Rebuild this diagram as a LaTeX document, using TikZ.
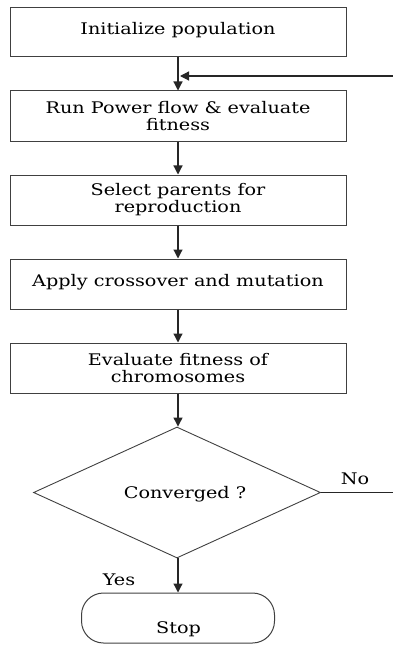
\documentclass[tikz,border=0pt]{standalone}
\usepackage{fontspec}
\setmainfont[FakeStretch=1.2]{DejaVu Serif}
\usetikzlibrary{arrows.meta,shapes.geometric}
\begin{document}
\begin{tikzpicture}[x=1pt,y=1pt,
  line/.style={draw=black!85, line width=1.2pt},
  arr/.style={line, -{Triangle[length=9pt,width=9pt]}},
  stepbox/.style={draw=black!75, line width=1pt, minimum width=336pt, inner sep=0pt, align=center, font=\fontsize{16}{17}\selectfont},
  decision/.style={diamond, draw=black!75, line width=0.9pt, minimum width=287pt, minimum height=131pt, inner sep=0pt, aspect=2.19},
  lbl/.style={inner sep=0pt, font=\fontsize{16}{17}\selectfont}]
\useasboundingbox (0,0) rectangle (393,-647);
\node[stepbox, minimum height=49pt] (b1) at (178,-32.5) {\raisebox{8pt}{Initialize population}};
\node[stepbox, minimum height=51pt] (b2) at (178,-116.5) {Run Power flow \& evaluate\\fitness};
\node[stepbox, minimum height=50pt] (b3) at (178,-200) {Select parents for\\reproduction};
\node[stepbox, minimum height=50pt] (b4) at (178,-284) {\raisebox{8pt}{Apply crossover and mutation}};
\node[stepbox, minimum height=50pt] (b5) at (178,-368) {Evaluate fitness of\\chromosomes};
\node[decision] (d) at (177,-492.5) {};
\node[lbl] (dt) at (185,-494) {Converged ?};
\node[draw=black!75, line width=1pt, minimum width=193pt, minimum height=50pt, rounded corners=22pt] (stop) at (178,-618) {};
\node[lbl] (st) at (178.5,-629) {Stop};
\node[lbl] (no) at (355,-479) {No};
\node[lbl] (yes) at (119,-580) {Yes};
\coordinate (fbin) at (393,-76);
\coordinate (fbax) at (180,-76);
\coordinate (noout) at (393,-492.5);
\draw[arr] (b1) -- (b2);
\draw[arr] (b2) -- (b3);
\draw[arr] (b3) -- (b4);
\draw[arr] (b4) -- (b5);
\draw[arr] (b5.south) -- (b5.south |- d.north);
\draw[arr] (d.south -| stop.north) -- (stop.north);
\draw[arr] (fbin) -- (fbax);
\draw[line, line width=0.9pt] (d.east) -- (noout);
\end{tikzpicture}
\end{document}
